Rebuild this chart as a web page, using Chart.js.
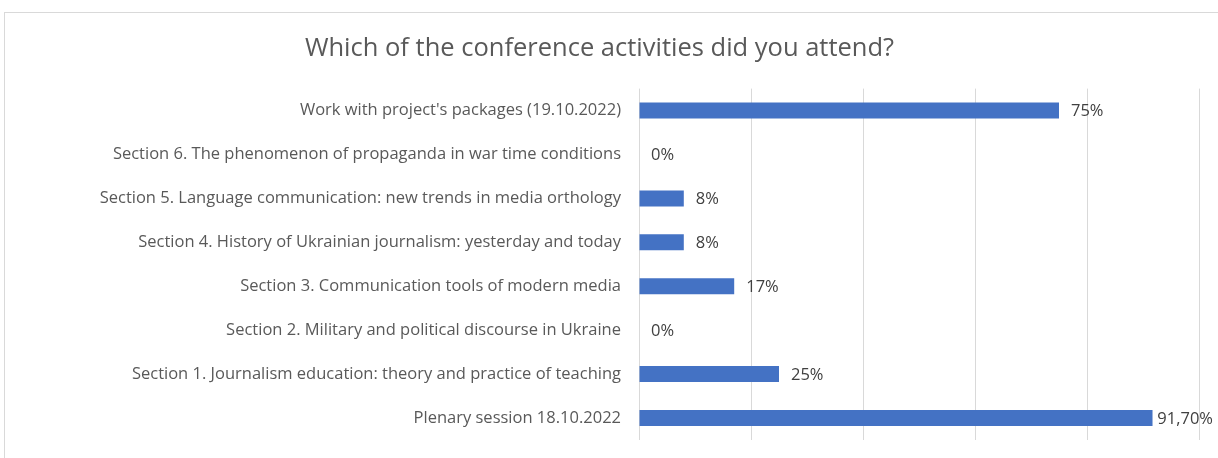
<!DOCTYPE html>
<html>
<head>
<meta charset="utf-8">
<script src="https://cdn.jsdelivr.net/npm/chart.js@4.4.1/dist/chart.umd.min.js"></script>
<style>
  html, body { margin: 0; padding: 0; background: #ffffff; overflow: hidden; }
  #frame {
    position: absolute; left: 4px; top: 12px; width: 1240px; height: 460px;
    border: 1px solid #d9d9d9; box-sizing: border-box;
  }
  #chart { position: absolute; left: 0; top: 0; }
</style>
</head>
<body>
<div id="frame"></div>
<canvas id="chart" width="1218" height="458"></canvas>
<script>
// Activities, listed top to bottom
const categories = [
  "Work with project's packages (19.10.2022)",
  "Section 6. The phenomenon of propaganda in war time conditions",
  "Section 5. Language communication: new trends in media orthology",
  "Section 4. History of Ukrainian journalism: yesterday and today",
  "Section 3. Communication tools of modern media",
  "Section 2. Military and political discourse in Ukraine",
  "Section 1. Journalism education: theory and practice of teaching",
  "Plenary session 18.10.2022"
];
// Share of respondents, percent
const attendance = [75, 0, 8, 8, 17, 0, 25, 91.7];
// Value labels as printed beside the bars
const valueLabels = ["75%", "0%", "8%", "8%", "17%", "0%", "25%", "91,70%"];

const FONT = "'Open Sans', 'Noto Sans', sans-serif";

// Writes the value label just past the end of each bar, kept inside the canvas
const barLabels = {
  id: 'barLabels',
  afterDatasetsDraw(chart) {
    const ctx = chart.ctx;
    const meta = chart.getDatasetMeta(0);
    const xScale = chart.scales.x;
    ctx.save();
    ctx.font = "16.5px " + FONT;
    ctx.fillStyle = "#404040";
    ctx.textBaseline = "middle";
    ctx.textAlign = "left";
    meta.data.forEach((bar, i) => {
      const end = xScale.getPixelForValue(attendance[i]);
      const w = ctx.measureText(valueLabels[i]).width;
      const x = Math.min(end + 12, chart.width - 5 - w);
      ctx.fillText(valueLabels[i], x, bar.y + 1);
    });
    ctx.restore();
  }
};

new Chart(document.getElementById('chart'), {
  type: 'bar',
  data: {
    labels: categories,
    datasets: [{
      data: attendance,
      backgroundColor: '#4472c4',
      borderWidth: 0,
      categoryPercentage: 0.364,
      barPercentage: 1.0
    }]
  },
  plugins: [barLabels],
  options: {
    indexAxis: 'y',
    responsive: false,
    animation: false,
    layout: { padding: { left: 0, right: 19, top: 0, bottom: 18 } },
    plugins: {
      legend: { display: false },
      tooltip: { enabled: false },
      title: {
        display: true,
        text: 'Which of the conference activities did you attend?',
        color: '#595959',
        font: { family: FONT, size: 25.5, weight: 'normal' },
        padding: { top: 33, bottom: 25 }
      }
    },
    scales: {
      x: {
        min: 0,
        max: 100,
        ticks: { display: false, stepSize: 20 },
        grid: { color: '#d9d9d9', lineWidth: 1, drawTicks: false },
        border: { display: false },
        afterFit(scale) { scale.height = 0; }
      },
      y: {
        grid: { display: false, drawTicks: false },
        border: { display: false },
        ticks: {
          color: '#595959',
          font: { family: FONT, size: 16.5 },
          padding: 18
        },
        afterFit(scale) {
          scale.width = 639;
          scale.paddingTop = 0;
          scale.paddingBottom = 0;
        }
      }
    }
  }
});
</script>
</body>
</html>
